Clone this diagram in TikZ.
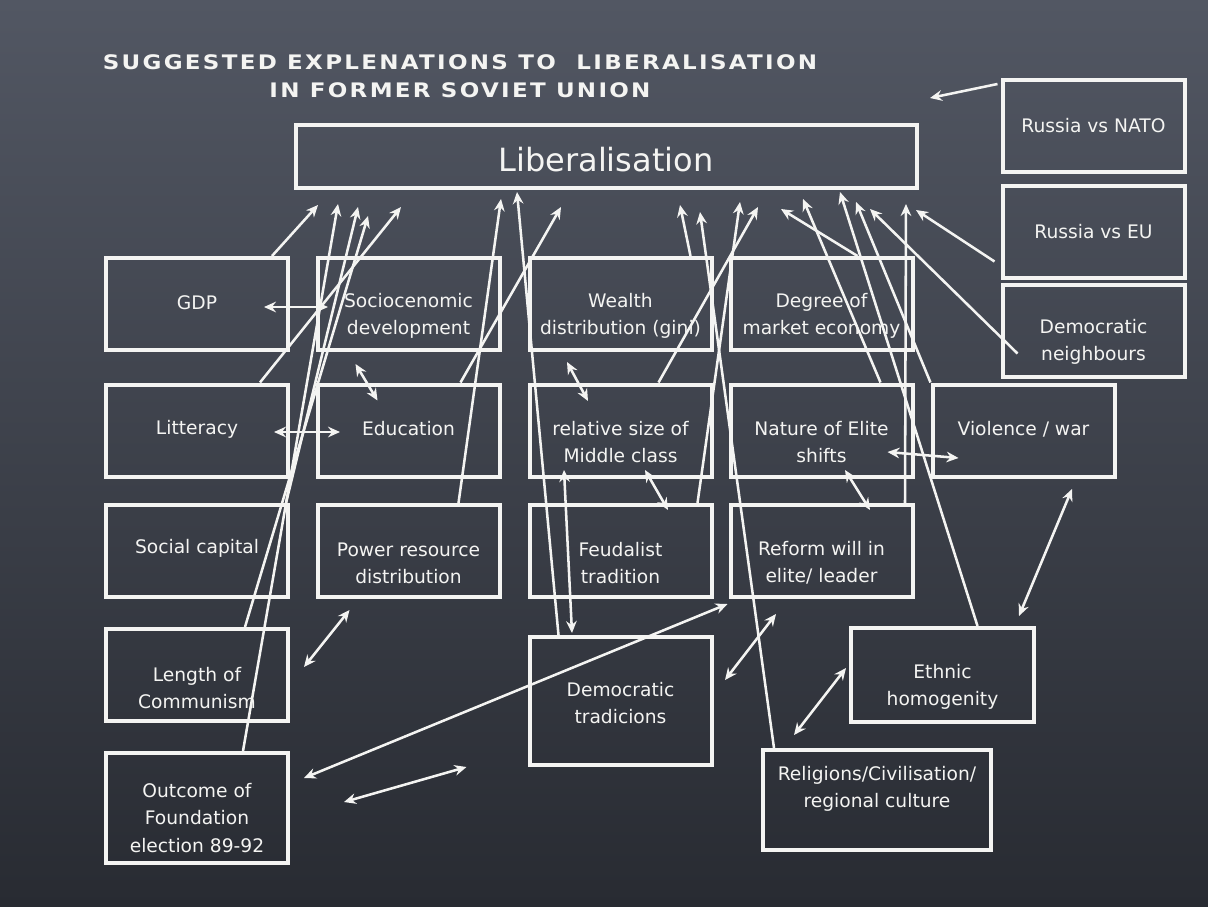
\documentclass[tikz,border=0pt]{standalone}
\usepackage{fontspec}
\setmainfont{DejaVu Sans}
\newfontfamily\titlefont{DejaVu Sans}[LetterSpace=10]
\usetikzlibrary{arrows.meta,calc}

\definecolor{boardtop}{RGB}{82,87,99}
\definecolor{boardbot}{RGB}{40,43,50}
\definecolor{chalk}{RGB}{244,244,242}

\begin{document}
\begin{tikzpicture}[x=0.75pt,y=-0.75pt,
  box/.style={rectangle,draw=chalk,line width=3pt,minimum width=136.5pt,minimum height=69pt,inner sep=0pt},
  txt/.style={text=chalk,align=center,inner sep=0pt,font=\fontsize{14}{20.5}\selectfont},
  arr/.style={draw=chalk,line width=1.9pt,-{Stealth[length=9pt,width=8pt,inset=3pt]}},
  darr/.style={draw=chalk,line width=1.9pt,{Stealth[length=9pt,width=8pt,inset=3pt]}-{Stealth[length=9pt,width=8pt,inset=3pt]}}]
\fill[top color=boardtop,bottom color=boardbot] (0,0) rectangle (1208,907);
\useasboundingbox (0,0) rectangle (1208,907);

% title
\node (title) at (460,76) [txt,font=\titlefont\bfseries\fontsize{15}{21}\selectfont]{\scalebox{1.15}[1]{SUGGESTED EXPLENATIONS TO\ \ LIBERALISATION}\\\scalebox{1.15}[1]{IN FORMER SOVIET UNION}};

% boxes
\node (lib) at (606.5,156.5) [box,minimum width=465.75pt,minimum height=47.25pt]{};
\node (nato) at (1093.5,126) [box]{};
\node (eu) at (1093.5,231.5) [box]{};
\node (demn) at (1093.5,330.5) [box]{};
\node (gdp) at (197,304) [box]{};
\node (socio) at (408.5,304) [box]{};
\node (wealth) at (620.5,304) [box]{};
\node (degree) at (821.5,304) [box]{};
\node (litt) at (197,430.5) [box]{};
\node (edu) at (408.5,430.5) [box]{};
\node (middle) at (620.5,430.5) [box]{};
\node (nature) at (821.5,430.5) [box]{};
\node (violence) at (1023.5,430.5) [box]{};
\node (social) at (197,551) [box]{};
\node (power) at (408.5,551) [box]{};
\node (feudal) at (620.5,551) [box]{};
\node (reform) at (821.5,551) [box]{};
\node (length) at (197,675) [box]{};
\node (outcome) at (197,808) [box,minimum height=82.5pt]{};
\node (demtrad) at (620.5,701) [box,minimum height=96pt]{};
\node (ethnic) at (942.5,675) [box,minimum width=137.25pt,minimum height=70.5pt]{};
\node (religion) at (877,800) [box,minimum width=171pt,minimum height=75pt]{};

% texts
\node (lib-t) at (606,160) [txt,font=\fontsize{24}{28}\selectfont]{Liberalisation};
\node (nato-t) at (1093.5,126) [txt]{Russia vs NATO};
\node (eu-t) at (1093.5,231.5) [txt]{Russia vs EU};
\node (demn-t) at (1093.5,342) [txt]{Democratic\\neighbours};
\node (gdp-t) at (197,303) [txt]{GDP};
\node (socio-t) at (408.5,316) [txt]{Sociocenomic\\development};
\node (wealth-t) at (620.5,316) [txt]{Wealth\\distribution (gini)};
\node (degree-t) at (821.5,316) [txt]{Degree of\\market economy};
\node (litt-t) at (197,429) [txt]{Litteracy};
\node (edu-t) at (408.5,429) [txt]{Education};
\node (middle-t) at (620.5,442) [txt]{relative size of\\Middle class};
\node (nature-t) at (821.5,442) [txt]{Nature of Elite\\shifts};
\node (violence-t) at (1023.5,429) [txt]{Violence / war};
\node (social-t) at (197,548) [txt]{Social capital};
\node (power-t) at (408.5,563) [txt]{Power resource\\distribution};
\node (feudal-t) at (620.5,563) [txt]{Feudalist\\tradition};
\node (reform-t) at (821.5,563) [txt]{Reform will in\\elite/ leader};
\node (length-t) at (197,688) [txt]{Length of\\Communism};
\node (outcome-t) at (197,818) [txt]{Outcome of\\Foundation\\election 89-92};
\node (demtrad-t) at (620.5,703) [txt]{Democratic\\tradicions};
\node (ethnic-t) at (942.5,687) [txt]{Ethnic\\homogenity};
\node (religion-t) at (877,789) [txt]{Religions/Civilisation/\\regional culture};

% arrows to liberalisation
\draw[arr] ($(gdp.north)+(75,0)$) -- ($(lib.south west)+(24,15)$);
\draw[arr] ($(outcome.north)+(46,0)$) -- ($(lib.south west)+(44,14)$);
\draw[arr] ($(social.north east)+(-4,0)$) -- ($(lib.south west)+(64,17)$);
\draw[arr] ($(length.north)+(48,0)$) -- ($(lib.south west)+(74,26)$);
\draw[arr] ($(litt.north)+(63,0)$) -- ($(lib.south west)+(107,17)$);
\draw[arr] ($(power.north)+(50,0)$) -- ($(lib.south west)+(207,9)$);
\draw[arr] ($(demtrad.north)+(-62,0)$) -- ($(lib.south west)+(223,2)$);
\draw[arr] ($(edu.north)+(52,0)$) -- ($(lib.south west)+(267,17)$);
\draw[arr] ($(wealth.north)+(70,0)$) -- ($(lib.south west)+(386,15)$);
\draw[arr] ($(religion.north)+(-103,0)$) -- ($(lib.south west)+(406,22)$);
\draw[arr] ($(feudal.north)+(77,0)$) -- ($(lib.south west)+(446,12)$);
\draw[arr] ($(middle.north)+(38,0)$) -- ($(lib.south west)+(464,17)$);
\draw[arr] ($(degree.north)+(36,0)$) -- ($(lib.south west)+(487,19)$);
\draw[arr] ($(nature.north)+(59,0)$) -- ($(lib.south west)+(509,9)$);
\draw[arr] ($(ethnic.north)+(35,0)$) -- ($(lib.south west)+(546,2)$);
\draw[arr] (violence.north west) -- ($(lib.south west)+(562,12)$);
\draw[arr] ($(demn.center)+(-76,23)$) -- ($(lib.south west)+(576,19)$);
\draw[arr] ($(reform.north)+(83.5,0)$) -- ($(lib.south west)+(612,14)$);
\draw[arr] ($(eu.west)+(-6,30)$) -- ($(lib.south west)+(622,20)$);
\draw[arr] ($(nato.north west)+(-3,6)$) -- ($(lib.north east)+(11,-25)$);

% two-way links
\draw[darr] ($(gdp.east)+(-26,3)$) -- ($(socio.west)+(12.5,3)$);
\draw[darr] ($(socio.south)+(-53,12)$) -- ($(edu.north)+(-31,18)$);
\draw[darr] ($(litt.east)+(-16,1.5)$) -- ($(edu.west)+(24.5,1.5)$);
\draw[darr] ($(wealth.south)+(-53.5,10)$) -- ($(middle.north)+(-32.5,18.5)$);
\draw[darr] ($(middle.south)+(-56.5,-8.5)$) -- ($(demtrad.north)+(-48.5,-2)$);
\draw[darr] ($(middle.south)+(24.5,-8.5)$) -- ($(feudal.north)+(47.5,7)$);
\draw[darr] ($(nature.south)+(23.5,-8.5)$) -- ($(reform.north)+(48.5,7)$);
\draw[darr] ($(nature.east)+(-27,21.5)$) -- ($(violence.west)+(28,27.5)$);
\draw[darr] ($(violence.south)+(48.5,10.5)$) -- ($(ethnic.north)+(76.5,-10)$);
\draw[darr] ($(religion.north west)+(33,-13)$) -- ($(ethnic.west)+(-3,-7)$);
\draw[darr] ($(demtrad.east)+(11.5,-21)$) -- ($(reform.south)+(-45.5,15)$);
\draw[darr] ($(outcome.east)+(14,-30)$) -- ($(reform.south west)+(-1,5)$);
\draw[darr] ($(outcome.east)+(54,-6)$) -- ($(demtrad.south west)+(-61,0)$);
\draw[darr] ($(length.east)+(14,-8)$) -- ($(power.south west)+(34,11)$);
\end{tikzpicture}
\end{document}
